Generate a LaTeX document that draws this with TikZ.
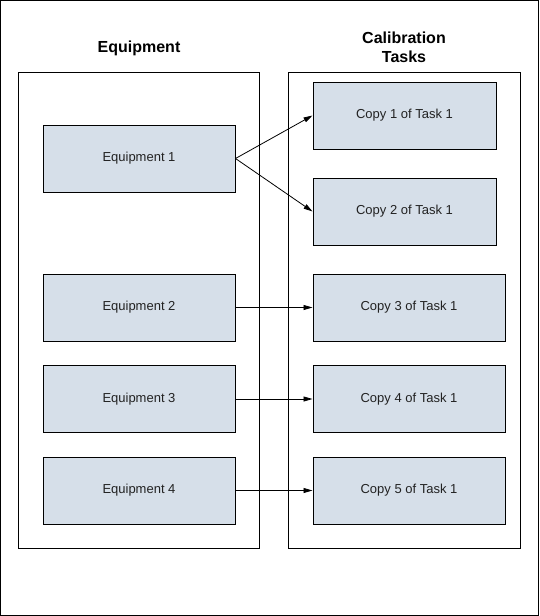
\documentclass[tikz,border=0pt]{standalone}
\usepackage{fontspec}
\setmainfont{Liberation Sans}
\usetikzlibrary{arrows.meta}
\definecolor{boxfill}{RGB}{214,223,233}
\definecolor{txt}{RGB}{34,34,34}
\begin{document}
\begin{tikzpicture}[x=1pt,y=-1pt,
  container/.style={draw=black,line width=1pt,fill=none,inner sep=0pt},
  itembox/.style={draw=black,line width=1pt,fill=boxfill,inner sep=0pt,minimum height=67pt,text=txt,font=\fontsize{13}{15}\selectfont},
  title/.style={font=\fontsize{16}{19}\selectfont\bfseries,text=black,align=center,inner sep=0pt},
  conn/.style={draw=black,line width=0.8pt,-{Triangle[length=9pt,width=5pt]}}]
\useasboundingbox (0,0) rectangle (539,616);
\draw[line width=1pt] (0.5,0.5) rectangle (538.5,615.5);
\node[container,minimum width=241pt,minimum height=476pt] (left) at (139,310) {};
\node[container,minimum width=231.5pt,minimum height=476pt] (right) at (404.25,310) {};
\node[title] (t1) at (139,48) {Equipment};
\node[title] (t2) at (404,47) {Calibration\\Tasks};
\node[itembox,minimum width=192pt] (e1) at (139,158.5) {Equipment 1};
\node[itembox,minimum width=192pt] (e2) at (139,307.5) {Equipment 2};
\node[itembox,minimum width=192pt] (e3) at (139,399) {Equipment 3};
\node[itembox,minimum width=192pt] (e4) at (139,490.5) {Equipment 4};
\node[itembox,minimum width=183pt] (c1) at (404.5,115.5) {Copy 1 of Task 1};
\node[itembox,minimum width=183pt] (c2) at (404.5,211.5) {Copy 2 of Task 1};
\node[itembox,minimum width=192pt] (c3) at (409,307.5) {Copy 3 of Task 1};
\node[itembox,minimum width=192pt] (c4) at (409,399) {Copy 4 of Task 1};
\node[itembox,minimum width=192pt] (c5) at (409,490.5) {Copy 5 of Task 1};
\draw[conn] (e1.east) -- (c1.west);
\draw[conn] (e1.east) -- (c2.west);
\draw[conn] (e2.east) -- (c3.west);
\draw[conn] (e3.east) -- (c4.west);
\draw[conn] (e4.east) -- (c5.west);
\end{tikzpicture}
\end{document}
